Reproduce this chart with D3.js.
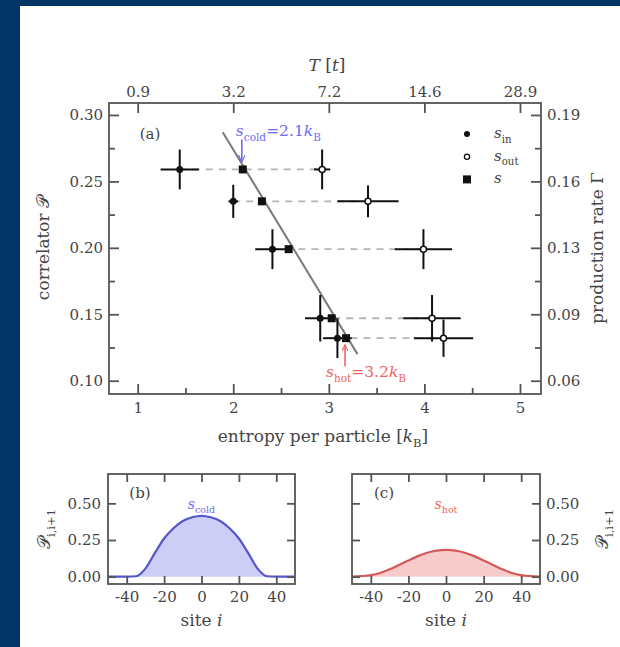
<!DOCTYPE html>
<html>
<head>
<meta charset="utf-8">
<script src="https://cdn.jsdelivr.net/npm/d3@7"></script>
<style>
html, body { margin: 0; background: #fff; overflow: hidden; }
svg { display: block; }
svg text { font-family: "DejaVu Serif", serif; fill: #454545; }
</style>
</head>
<body>
<script>
// panel (a): correlator vs entropy per particle
const pTicks = [0.10, 0.15, 0.20, 0.25, 0.30];
const pMinor = [0.125, 0.175, 0.225, 0.275];
const rateLabels = ['0.06', '0.09', '0.13', '0.16', '0.19'];
const sTicks = [1, 2, 3, 4, 5];
const sMinor = [1.5, 2.5, 3.5, 4.5];
const tempLabels = ['0.9', '3.2', '7.2', '14.6', '28.9'];

const corr = [0.259, 0.235, 0.199, 0.147, 0.132];
const sIn = [1.44, 2.00, 2.41, 2.91, 3.09];
const sInErr = [0.20, 0.05, 0.18, 0.16, 0.15];
const corrInErr = [0.015, 0.0125, 0.015, 0.0175, 0.015];
const sOut = [2.93, 3.41, 3.99, 4.08, 4.20];
const sOutErr = [0.085, 0.32, 0.30, 0.30, 0.31];
const corrOutErr = [0.015, 0.012, 0.015, 0.0175, 0.014];
const sMid = [2.10, 2.30, 2.58, 3.03, 3.18];
const fitS = [1.89, 3.30];
const fitP = [0.287, 0.120];
const sCold = 2.1;
const sHot = 3.2;

// panels (b) and (c): correlation profiles
const sites = [-50, -45, -40, -35, -30, -25, -20, -15, -10, -5, 0, 5, 10, 15, 20, 25, 30, 35, 40, 45, 50];
const corrCold = [0, 0, 0, 0.003, 0.055, 0.16, 0.26, 0.33, 0.38, 0.405, 0.415, 0.405, 0.38, 0.33, 0.26, 0.16, 0.055, 0.003, 0, 0, 0];
const corrHot = [0.001, 0.004, 0.01, 0.025, 0.05, 0.08, 0.11, 0.14, 0.163, 0.177, 0.182, 0.177, 0.163, 0.14, 0.11, 0.08, 0.05, 0.025, 0.01, 0.004, 0.001];
const siteTicks = [-40, -20, 0, 20, 40];
const profTicks = [0, 0.25, 0.5];

const W = 620, H = 647;
const axisCol = '#555';
const slideBlue = '#033567';
const blue = '#6c6cf0', red = '#f06464';
const tickFont = 15, labelFont = 17;

var svg = d3.select('body').append('svg')
    .attr('width', W)
    .attr('height', H);

// slide frame: white page, blue band on the left and top
svg.append('rect').attr('x', 0).attr('y', 0).attr('width', W).attr('height', H).attr('fill', '#fff');
svg.append('rect').attr('x', 0).attr('y', 0).attr('width', 20).attr('height', H).attr('fill', slideBlue);
svg.append('rect').attr('x', 0).attr('y', 0).attr('width', W).attr('height', 6).attr('fill', slideBlue);

svg.append('defs').selectAll('marker')
    .data([['headBlue', blue], ['headRed', red]])
    .enter().append('marker')
    .attr('id', d => d[0])
    .attr('viewBox', '0 -5 10 10')
    .attr('refX', 9).attr('refY', 0)
    .attr('markerWidth', 7).attr('markerHeight', 7)
    .attr('markerUnits', 'userSpaceOnUse')
    .attr('orient', 'auto')
    .append('path')
    .attr('d', 'M0,-4.5L10,0L0,4.5')
    .attr('fill', 'none')
    .attr('stroke', d => d[1])
    .attr('stroke-width', 1.6);

// text with italic / subscript pieces
function rich(g, x, y, parts, size, color, anchor) {
    let t = g.append('text')
        .attr('x', x).attr('y', y)
        .attr('font-size', size)
        .attr('text-anchor', anchor || 'start');
    if (color) t.style('fill', color);
    let shift = 0;
    parts.forEach(function (p) {
        let off = p.sub ? size * 0.3 : 0;
        let ts = t.append('tspan').text(p.t).attr('dy', off - shift);
        shift = off;
        if (p.it) ts.style('font-style', 'italic');
        if (p.sub) ts.attr('font-size', size * 0.68);
    });
    return t;
}

function styleAxis(g) {
    g.attr('font-family', null).attr('font-size', tickFont);
    g.select('.domain').remove();
    g.selectAll('.tick line').attr('stroke', axisCol).attr('stroke-width', 1.8);
}

/* panel (a) */
var xA = d3.scaleLinear().domain([0.7, 5.22]).range([109, 541]);
var yA = d3.scaleLinear().domain([0.09, 0.309]).range([394, 103]);

var gA = svg.append('g');

gA.append('rect')
    .attr('x', 109).attr('y', 103)
    .attr('width', 432).attr('height', 291)
    .attr('fill', 'none')
    .attr('stroke', axisCol)
    .attr('stroke-width', 1.8);

gA.append('g').attr('transform', 'translate(109,0)')
    .call(d3.axisLeft(yA).tickValues(pTicks).tickSize(-10).tickPadding(6).tickFormat(d3.format('.2f')))
    .call(styleAxis);
gA.append('g').attr('transform', 'translate(109,0)')
    .call(d3.axisLeft(yA).tickValues(pMinor).tickSize(-6).tickFormat(''))
    .call(styleAxis);
gA.append('g').attr('transform', 'translate(541,0)')
    .call(d3.axisRight(yA).tickValues(pTicks).tickSize(-10).tickPadding(6).tickFormat((d, i) => rateLabels[i]))
    .call(styleAxis);
gA.append('g').attr('transform', 'translate(541,0)')
    .call(d3.axisRight(yA).tickValues(pMinor).tickSize(-6).tickFormat(''))
    .call(styleAxis);
gA.append('g').attr('transform', 'translate(0,394)')
    .call(d3.axisBottom(xA).tickValues(sTicks).tickSize(-10).tickPadding(8).tickFormat(d3.format('d')))
    .call(styleAxis);
gA.append('g').attr('transform', 'translate(0,394)')
    .call(d3.axisBottom(xA).tickValues(sMinor).tickSize(-6).tickFormat(''))
    .call(styleAxis);
gA.append('g').attr('transform', 'translate(0,103)')
    .call(d3.axisTop(xA).tickValues(sTicks).tickSize(-10).tickPadding(6).tickFormat((d, i) => tempLabels[i]))
    .call(styleAxis);

// dashed guides from s_in to s_out
gA.selectAll('line.guide')
    .data(corr)
    .enter().append('line')
    .attr('class', 'guide')
    .attr('x1', (d, i) => xA(sIn[i]))
    .attr('x2', (d, i) => xA(sOut[i]))
    .attr('y1', d => yA(d))
    .attr('y2', d => yA(d))
    .attr('stroke', '#b4b4b4')
    .attr('stroke-width', 1.8)
    .attr('stroke-dasharray', '7,6');

// linear fit
gA.append('line')
    .attr('x1', xA(fitS[0])).attr('y1', yA(fitP[0]))
    .attr('x2', xA(fitS[1])).attr('y2', yA(fitP[1]))
    .attr('stroke', '#7a7a7a')
    .attr('stroke-width', 2);

function errorBars(xs, xe, ye) {
    corr.forEach(function (p, i) {
        gA.append('line')
            .attr('x1', xA(xs[i] - xe[i])).attr('x2', xA(xs[i] + xe[i]))
            .attr('y1', yA(p)).attr('y2', yA(p))
            .attr('stroke', '#111').attr('stroke-width', 2);
        gA.append('line')
            .attr('x1', xA(xs[i])).attr('x2', xA(xs[i]))
            .attr('y1', yA(p - ye[i])).attr('y2', yA(p + ye[i]))
            .attr('stroke', '#111').attr('stroke-width', 2);
    });
}
errorBars(sIn, sInErr, corrInErr);
errorBars(sOut, sOutErr, corrOutErr);

gA.selectAll('circle.sin')
    .data(corr)
    .enter().append('circle')
    .attr('cx', (d, i) => xA(sIn[i]))
    .attr('cy', d => yA(d))
    .attr('r', 3.5)
    .attr('fill', '#111');

gA.selectAll('circle.sout')
    .data(corr)
    .enter().append('circle')
    .attr('cx', (d, i) => xA(sOut[i]))
    .attr('cy', d => yA(d))
    .attr('r', 3)
    .attr('fill', '#fff')
    .attr('stroke', '#111')
    .attr('stroke-width', 1.5);

gA.selectAll('rect.smid')
    .data(corr)
    .enter().append('rect')
    .attr('x', (d, i) => xA(sMid[i]) - 4)
    .attr('y', d => yA(d) - 4)
    .attr('width', 8)
    .attr('height', 8)
    .attr('fill', '#111');

// annotations
var xc = xA(sCold), yc = yA(corr[0]);
gA.append('line')
    .attr('x1', xc - 1).attr('y1', yc - 30)
    .attr('x2', xc - 1).attr('y2', yc - 8)
    .attr('stroke', blue).attr('stroke-width', 1.6)
    .attr('marker-end', 'url(#headBlue)');
rich(gA, xc - 7, yc - 33, [{ t: 's', it: 1 }, { t: 'cold', sub: 1 }, { t: '=2.1' }, { t: 'k', it: 1 }, { t: 'B', sub: 1 }], 15.5, blue);

var xh = xA(sMid[4]), yh = yA(corr[4]);
gA.append('line')
    .attr('x1', xh - 1).attr('y1', yh + 28)
    .attr('x2', xh - 1).attr('y2', yh + 7)
    .attr('stroke', red).attr('stroke-width', 1.6)
    .attr('marker-end', 'url(#headRed)');
rich(gA, xA(sHot) - 22, yh + 39, [{ t: 's', it: 1 }, { t: 'hot', sub: 1 }, { t: '=3.2' }, { t: 'k', it: 1 }, { t: 'B', sub: 1 }], 15.5, red);

rich(gA, 150, 139, [{ t: '(a)' }], 15, null, 'middle');

// legend
var legRows = [['in', 0], ['out', 1], ['', 2]];
legRows.forEach(function (r, i) {
    let y = 134 + i * 22.7;
    if (r[1] === 0) gA.append('circle').attr('cx', 467).attr('cy', y).attr('r', 3).attr('fill', '#111');
    if (r[1] === 1) gA.append('circle').attr('cx', 467).attr('cy', y).attr('r', 2.6).attr('fill', '#fff').attr('stroke', '#111').attr('stroke-width', 1.3);
    if (r[1] === 2) gA.append('rect').attr('x', 463).attr('y', y - 4).attr('width', 8).attr('height', 8).attr('fill', '#111');
    let parts = [{ t: 's', it: 1 }];
    if (r[0]) parts.push({ t: r[0], sub: 1 });
    rich(gA, 494, y + 4, parts, 15);
});

// axis titles
rich(svg, 327, 71, [{ t: 'T', it: 1 }, { t: ' [' }, { t: 't', it: 1 }, { t: ']' }], labelFont, null, 'middle');
rich(svg, 323, 442, [{ t: 'entropy per particle [' }, { t: 'k', it: 1 }, { t: 'B', sub: 1 }, { t: ']' }], labelFont, null, 'middle');
rich(svg.append('g').attr('transform', 'translate(49,248) rotate(-90)'), 0, 0,
    [{ t: 'correlator ' }, { t: '𝒫' }], labelFont, null, 'middle');
rich(svg.append('g').attr('transform', 'translate(603,248) rotate(-90)'), 0, 0,
    [{ t: 'production rate Γ' }], labelFont, null, 'middle');

/* panels (b) and (c) */
var yP = d3.scaleLinear().domain([-0.05, 0.70]).range([584, 474]);

function profilePanel(x0, x1, vals, stroke, fill, labelsLeft, letter, tag, tagCol) {
    let x = d3.scaleLinear().domain([-50, 50]).range([x0, x1]);
    let g = svg.append('g');

    g.append('path')
        .datum(sites)
        .attr('d', d3.area().curve(d3.curveMonotoneX)
            .x(d => x(d))
            .y0(yP(0))
            .y1((d, i) => yP(vals[i])))
        .attr('fill', fill);

    g.append('path')
        .datum(sites)
        .attr('d', d3.line().curve(d3.curveMonotoneX)
            .x(d => x(d))
            .y((d, i) => yP(vals[i])))
        .attr('fill', 'none')
        .attr('stroke', stroke)
        .attr('stroke-width', 2.2);

    g.append('rect')
        .attr('x', x0).attr('y', 474)
        .attr('width', x1 - x0).attr('height', 110)
        .attr('fill', 'none')
        .attr('stroke', axisCol)
        .attr('stroke-width', 1.8);

    g.append('g').attr('transform', 'translate(0,584)')
        .call(d3.axisBottom(x).tickValues(siteTicks).tickSize(-8).tickPadding(7).tickFormat(d => String(d)))
        .call(styleAxis);
    g.append('g').attr('transform', 'translate(0,474)')
        .call(d3.axisTop(x).tickValues(siteTicks).tickSize(-8).tickFormat(''))
        .call(styleAxis);
    g.append('g').attr('transform', 'translate(' + x0 + ',0)')
        .call(d3.axisLeft(yP).tickValues(profTicks).tickSize(-8).tickPadding(7)
            .tickFormat(labelsLeft ? d3.format('.2f') : ''))
        .call(styleAxis);
    g.append('g').attr('transform', 'translate(' + x1 + ',0)')
        .call(d3.axisRight(yP).tickValues(profTicks).tickSize(-8).tickPadding(6)
            .tickFormat(labelsLeft ? '' : d3.format('.2f')))
        .call(styleAxis);

    rich(g, x0 + 32, 498, [{ t: letter }], 15, null, 'middle');
    rich(g, x(0), 509, [{ t: 's', it: 1 }, { t: tag, sub: 1 }], 14, tagCol, 'middle');
    rich(g, x(0), 626, [{ t: 'site ' }, { t: 'i', it: 1 }], labelFont, null, 'middle');

    let lx = labelsLeft ? x0 - 58 : x1 + 68;
    rich(g.append('g').attr('transform', 'translate(' + lx + ',529) rotate(-90)'), 0, 0,
        [{ t: '𝒫' }, { t: 'i,i+1', sub: 1 }], labelFont, null, 'middle');
}

profilePanel(108, 295, corrCold, '#5656cc', '#cdcdf6', true, '(b)', 'cold', blue);
profilePanel(352, 540, corrHot, '#d45858', '#f9cccc', false, '(c)', 'hot', red);

// keep the right margin of the slide white
svg.append('rect').attr('x', 614).attr('y', 6).attr('width', 6).attr('height', H - 6).attr('fill', '#fff');
</script>
</body>
</html>
